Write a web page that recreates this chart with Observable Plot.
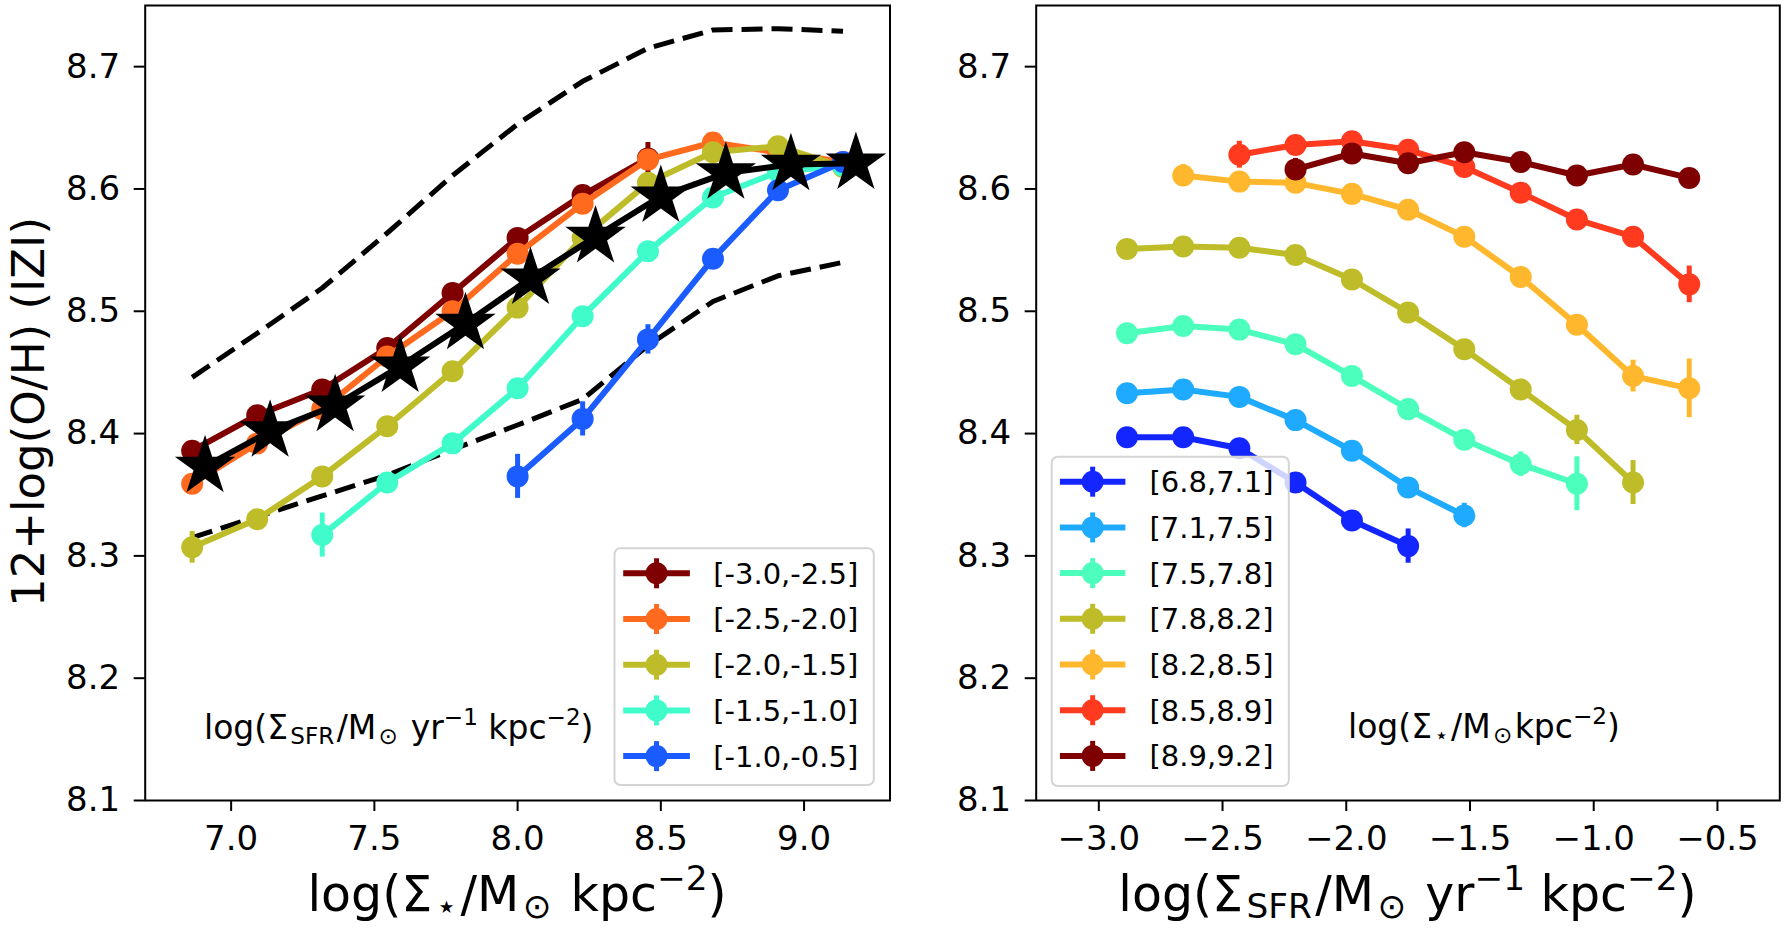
<!DOCTYPE html>
<html><head><meta charset="utf-8">
<script src="https://cdn.jsdelivr.net/npm/d3@7"></script>
<script src="https://cdn.jsdelivr.net/npm/@observablehq/plot@0.6"></script>
<style>
html,body{margin:0;padding:0;background:#fff;}
#wrap{position:relative;width:1786px;height:930px;overflow:hidden;font-family:"DejaVu Sans",sans-serif;}
#wrap svg{position:absolute;top:0;}
</style></head><body><div id="wrap"></div>
<script>
// ---------------- data ----------------
const yTicks = [8.1, 8.2, 8.3, 8.4, 8.5, 8.6, 8.7];
const leftXTicks = [7.0, 7.5, 8.0, 8.5, 9.0];
const rightXTicks = [-3.0, -2.5, -2.0, -1.5, -1.0, -0.5];

// bin centres (x) of each panel
const massBins = [6.864, 7.091, 7.318, 7.545, 7.773, 8.000, 8.227, 8.455, 8.682, 8.909, 9.136];
const sfrBins = [-2.886, -2.659, -2.432, -2.205, -1.977, -1.750, -1.523, -1.295, -1.068, -0.841, -0.614];

// left panel: binned by SFR surface density
const leftLabels = ["[-3.0,-2.5]", "[-2.5,-2.0]", "[-2.0,-1.5]", "[-1.5,-1.0]", "[-1.0,-0.5]"];
const leftColors = ["#7f0000", "#ff6a1e", "#bfbc2a", "#40fccb", "#1a5cff"];
const leftStart = [0, 0, 0, 2, 5];
const leftY = [
  [8.386, 8.415, 8.436, 8.470, 8.515, 8.560, 8.595, 8.625],
  [8.359, 8.392, 8.420, 8.463, 8.500, 8.547, 8.588, 8.624, 8.638, 8.630, 8.622],
  [8.307, 8.330, 8.365, 8.406, 8.451, 8.503, 8.560, 8.605, 8.630, 8.635, 8.618],
  [8.317, 8.360, 8.392, 8.437, 8.496, 8.549, 8.593, 8.614, 8.619],
  [8.365, 8.412, 8.477, 8.543, 8.599, 8.622]
];
const leftErr = [
  [0.004, 0.003, 0.003, 0.003, 0.004, 0.004, 0.005, 0.013],
  [0.004, 0.003, 0.003, 0.003, 0.004, 0.004, 0.004, 0.005, 0.005, 0.005, 0.006],
  [0.013, 0.004, 0.004, 0.004, 0.004, 0.004, 0.004, 0.004, 0.005, 0.005, 0.006],
  [0.018, 0.008, 0.004, 0.004, 0.005, 0.005, 0.005, 0.005, 0.006],
  [0.018, 0.014, 0.012, 0.006, 0.006, 0.006]
];
// median relation (stars) and percentile envelope (dashed)
const starX = [6.909, 7.136, 7.363, 7.590, 7.818, 8.045, 8.272, 8.500, 8.727, 8.954, 9.181];
const starY = [8.373, 8.402, 8.423, 8.455, 8.490, 8.527, 8.561, 8.594, 8.613, 8.620, 8.621];
const upperY = [8.446, 8.482, 8.519, 8.564, 8.611, 8.653, 8.688, 8.715, 8.730, 8.731, 8.729];
const lowerY = [8.315, 8.332, 8.349, 8.366, 8.387, 8.407, 8.428, 8.472, 8.508, 8.529, 8.540];

// right panel: binned by stellar mass surface density
const rightLabels = ["[6.8,7.1]", "[7.1,7.5]", "[7.5,7.8]", "[7.8,8.2]", "[8.2,8.5]", "[8.5,8.9]", "[8.9,9.2]"];
const rightColors = ["#1326ff", "#1eaaff", "#4dffbd", "#bfbc2a", "#ffb82e", "#ff3a1f", "#7f0000"];
const rightStart = [0, 0, 0, 0, 1, 2, 3];
const rightY = [
  [8.397, 8.397, 8.388, 8.360, 8.329, 8.308],
  [8.433, 8.436, 8.430, 8.411, 8.386, 8.356, 8.333],
  [8.482, 8.488, 8.485, 8.473, 8.447, 8.420, 8.395, 8.375, 8.359],
  [8.551, 8.553, 8.552, 8.546, 8.526, 8.499, 8.469, 8.436, 8.403, 8.360],
  [8.611, 8.606, 8.605, 8.596, 8.583, 8.561, 8.528, 8.489, 8.447, 8.437],
  [8.628, 8.636, 8.639, 8.632, 8.618, 8.597, 8.575, 8.561, 8.522],
  [8.616, 8.629, 8.621, 8.630, 8.622, 8.611, 8.620, 8.609]
];
const rightErr = [
  [0.005, 0.005, 0.005, 0.005, 0.006, 0.014],
  [0.004, 0.004, 0.004, 0.004, 0.005, 0.005, 0.010],
  [0.004, 0.004, 0.004, 0.004, 0.004, 0.005, 0.006, 0.010, 0.022],
  [0.005, 0.004, 0.004, 0.004, 0.004, 0.004, 0.005, 0.006, 0.012, 0.018],
  [0.009, 0.004, 0.004, 0.004, 0.004, 0.004, 0.005, 0.006, 0.013, 0.024],
  [0.011, 0.004, 0.005, 0.005, 0.005, 0.005, 0.006, 0.007, 0.015],
  [0.009, 0.005, 0.005, 0.005, 0.004, 0.004, 0.005, 0.005]
];

// ---------------- drawing ----------------
const FONT = "DejaVu Sans";
const H = 930, MT = 5, MB = 130;

function seriesMarks(bins, labels, colors, starts, values, errors) {
  const marks = [];
  labels.forEach((lab, k) => {
    const rows = values[k].map((v, i) => ({x: bins[starts[k] + i], y: v, e: errors[k][i]}));
    marks.push(Plot.line(rows, {x: "x", y: "y", stroke: colors[k], strokeWidth: 6}));
    marks.push(Plot.ruleX(rows, {x: "x", y1: d => d.y - d.e, y2: d => d.y + d.e, stroke: colors[k], strokeWidth: 5}));
    marks.push(Plot.dot(rows, {x: "x", y: "y", r: 11, fill: colors[k]}));
  });
  return marks;
}

function makePanel(cfg) {
  const marks = [...(cfg.pre || []), ...cfg.series, ...(cfg.post || []),
    Plot.axisX({ticks: cfg.xTicks, tickFormat: d3.format(".1f"), tickSize: 11, tickPadding: 14, fontSize: 34, strokeWidth: 2, label: null}),
    Plot.axisY({ticks: yTicks, tickFormat: d3.format(".1f"), tickSize: 11, tickPadding: 14, fontSize: 34, strokeWidth: 2, label: null}),
    Plot.frame({stroke: "black", strokeWidth: 2})
  ];
  return Plot.plot({
    width: cfg.width, height: H,
    marginLeft: cfg.ml, marginRight: cfg.mr, marginTop: MT, marginBottom: MB,
    x: {domain: cfg.xDomain, label: null},
    y: {domain: [8.1, 8.75], label: null},
    style: {fontFamily: FONT, color: "black", background: "transparent", overflow: "visible"},
    marks
  });
}

// math-ish text with sub/superscripts: parts = [[string, level]] level -1 sub, 0 normal, 1 sup
function mathText(sel, x, y, fs, parts, anchor) {
  const t = sel.append("text")
    .attr("x", x).attr("y", y)
    .attr("font-family", FONT).attr("font-size", fs).attr("fill", "black")
    .attr("text-anchor", anchor || "start");
  let cur = 0, prevLvl = 0;
  const gap = 0.07 * fs;
  for (const [s, lvl] of parts) {
    const target = lvl === -1 ? 0.15 * fs : lvl === 1 ? -0.42 * fs : 0;
    const ts = t.append("tspan").attr("dy", target - cur).text(s);
    let dx = 0;
    if (lvl !== 0) { ts.attr("font-size", 0.7 * fs); if (lvl === -1) dx += gap; }
    if (prevLvl === -1 && lvl === 0) dx += gap;
    if (dx) ts.attr("dx", dx);
    cur = target; prevLvl = lvl;
  }
  return t;
}

function drawLegend(sel, box, rows, pitch, handle, textX, fs) {
  const g = sel.append("g");
  g.append("rect").attr("x", box[0]).attr("y", box[1]).attr("width", box[2]).attr("height", box[3])
    .attr("rx", 6).attr("fill", "white").attr("fill-opacity", 0.8)
    .attr("stroke", "#d4d4d4").attr("stroke-width", 2);
  rows.forEach((r, k) => {
    const cy = box[1] + 25 + k * pitch;
    const mx = (handle[0] + handle[1]) / 2;
    g.append("line").attr("x1", handle[0]).attr("x2", handle[1]).attr("y1", cy).attr("y2", cy)
      .attr("stroke", r.color).attr("stroke-width", 6);
    g.append("line").attr("x1", mx).attr("x2", mx).attr("y1", cy - 15).attr("y2", cy + 15)
      .attr("stroke", r.color).attr("stroke-width", 5);
    g.append("circle").attr("cx", mx).attr("cy", cy).attr("r", 11).attr("fill", r.color);
    g.append("text").attr("x", textX).attr("y", cy).attr("dy", "0.36em").attr("text-anchor", "start")
      .attr("font-family", FONT).attr("font-size", fs).attr("fill", "black").text(r.label);
  });
}

const wrap = document.getElementById("wrap");

// ---- left panel ----
const LW = 900, LML = 144.7, LMR = 10.5;
const dashedRows = massBins.map((x, i) => ({x, hi: upperY[i], lo: lowerY[i]}));
const starRows = starX.map((x, i) => ({x, y: starY[i]}));
const left = makePanel({
  width: LW, ml: LML, mr: LMR, xDomain: [6.70, 9.30], xTicks: leftXTicks,
  pre: [
    Plot.line(dashedRows, {x: "x", y: "hi", stroke: "black", strokeWidth: 5, strokeDasharray: "21,9", strokeLinecap: "butt"}),
    Plot.line(dashedRows, {x: "x", y: "lo", stroke: "black", strokeWidth: 5, strokeDasharray: "21,9", strokeLinecap: "butt"})
  ],
  series: seriesMarks(massBins, leftLabels, leftColors, leftStart, leftY, leftErr),
  post: [
    Plot.line(starRows, {x: "x", y: "y", stroke: "black", strokeWidth: 6}),
    Plot.dot(starRows, {x: "x", y: "y", symbol: "star", r: 19, fill: "black"})
  ]
});
left.style.left = "0px";
wrap.appendChild(left);

// ---- right panel ----
const RX = 900, RW = 886, RML = 135.7, RMR = 6.7;
const right = makePanel({
  width: RW, ml: RML, mr: RMR, xDomain: [-3.253, -0.248], xTicks: rightXTicks,
  series: seriesMarks(sfrBins, rightLabels, rightColors, rightStart, rightY, rightErr)
});
right.style.left = RX + "px";
wrap.appendChild(right);

// ---- labels, annotations, legends ----
const L = d3.select(left), R = d3.select(right);
const sfrUnit = [["log(Σ", 0], ["SFR", -1], ["/M", 0], ["⊙", -1], [" yr", 0], ["−1", 1], [" kpc", 0], ["−2", 1], [")", 0]];
const massUnit = [["log(Σ", 0], ["⋆", -1], ["/M", 0], ["⊙", -1], [" kpc", 0], ["−2", 1], [")", 0]];
const massUnitTight = [["log(Σ", 0], ["⋆", -1], ["/M", 0], ["⊙", -1], ["kpc", 0], ["−2", 1], [")", 0]];

// y label
L.append("text").attr("transform", "translate(43.5,412) rotate(-90)")
  .attr("text-anchor", "middle").attr("font-family", FONT).attr("font-size", 45).attr("fill", "black")
  .text("12+log(O/H) (IZI)");
// x labels
mathText(L, (LML + LW - LMR) / 2, 911, 49, massUnit, "middle");
mathText(R, (RML + RW - RMR) / 2, 911, 49, sfrUnit, "middle");
// in-panel annotations
mathText(L, 204, 739, 33, sfrUnit, "start");
mathText(R, 1348 - RX, 738, 33, massUnitTight, "start");

// legends
drawLegend(L, [614.5, 548.3, 259.3, 236.7], leftLabels.map((l, k) => ({label: l, color: leftColors[k]})), 45.7, [623.2, 689.9], 713.2, 29);
drawLegend(R, [1051.7 - RX, 456.7, 237.1, 329.3], rightLabels.map((l, k) => ({label: l, color: rightColors[k]})), 45.7, [1059.9 - RX, 1125.4 - RX], 1149.5 - RX, 29);
</script>
</body></html>
